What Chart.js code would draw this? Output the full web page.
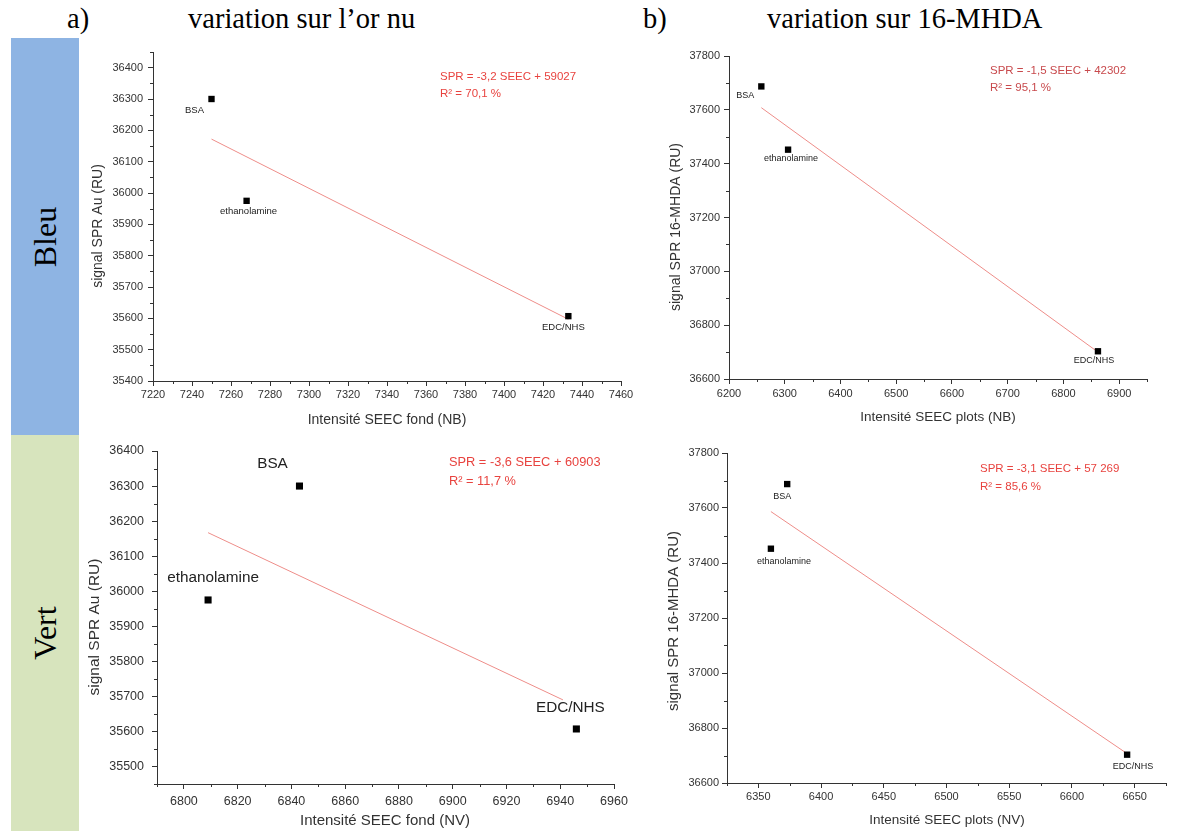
<!DOCTYPE html>
<html lang="fr">
<head>
<meta charset="utf-8">
<title>SPR / SEEC</title>
<script src="https://cdn.jsdelivr.net/npm/chart.js@4.4.1/dist/chart.umd.min.js"></script>
<style>
  body { margin: 0; background: #fff; width: 1190px; height: 831px; position: relative; overflow: hidden;
         font-family: 'Liberation Serif', 'Times New Roman', serif; }
  .head { position: absolute; top: 5px; font-size: 28.5px; line-height: 28.5px; color: #000; white-space: nowrap; }
  .band { position: absolute; left: 11px; width: 68px; }
  .band span { position: absolute; left: 50%; top: 50%; transform: translate(-50%, -50%) rotate(-90deg);
               font-size: 32px; line-height: 32px; white-space: nowrap; color: #000; }
  canvas { position: absolute; }
</style>
</head>
<body>
<div class="head" style="left:67px">a)</div>
<div class="head" style="left:188px">variation sur l’or nu</div>
<div class="head" style="left:643px">b)</div>
<div class="head" style="left:767px">variation sur 16-MHDA</div>
<div class="band" style="top:38px;height:397px;background:#8eb4e3"><span>Bleu</span></div>
<div class="band" style="top:435px;height:396px;background:#d7e4bd"><span>Vert</span></div>

<script>
// the three steps, same order in every array
const steps = ['BSA', 'ethanolamine', 'EDC/NHS'];

// signal SPR (RU)
const sprAu = [36300, 35975, 35607];
const spr16 = [37687, 37452, 36703];

// intensité SEEC
const fondNB = [7250, 7268, 7433];
const plotsNB = [6258, 6306, 6862];
const fondNV = [6843, 6809, 6946];
const plotsNV = [6373, 6360, 6644];

// regression lines (end points)
const fitFondNBx = [7250, 7433], fitFondNBy = [36172, 35597];
const fitPlotsNBx = [6258, 6862], fitPlotsNBy = [37608, 36700];
const fitFondNVx = [6809, 6941], fitFondNVy = [36167, 35690];
const fitPlotsNVx = [6360, 6643], fitPlotsNVy = [37587, 36710];

// equations
const eqFondNB = ['SPR = -3,2 SEEC + 59027', 'R² = 70,1 %'];
const eqPlotsNB = ['SPR = -1,5 SEEC + 42302', 'R² = 95,1 %'];
const eqFondNV = ['SPR = -3,6 SEEC + 60903', 'R² = 11,7 %'];
const eqPlotsNV = ['SPR = -3,1 SEEC + 57 269', 'R² = 85,6 %'];

// tick labels
const xTicksFondNB = [7220, 7240, 7260, 7280, 7300, 7320, 7340, 7360, 7380, 7400, 7420, 7440, 7460];
const xTicksPlotsNB = [6200, 6300, 6400, 6500, 6600, 6700, 6800, 6900];
const xTicksFondNV = [6800, 6820, 6840, 6860, 6880, 6900, 6920, 6940, 6960];
const xTicksPlotsNV = [6350, 6400, 6450, 6500, 6550, 6600, 6650];
const yTicksAuNB = [35400, 35500, 35600, 35700, 35800, 35900, 36000, 36100, 36200, 36300, 36400];
const yTicksAuNV = [35500, 35600, 35700, 35800, 35900, 36000, 36100, 36200, 36300, 36400];
const yTicks16 = [36600, 36800, 37000, 37200, 37400, 37600, 37800];

Chart.defaults.font.family = "'Liberation Sans', Arial, sans-serif";
const PAD = { l: 95, t: 20, r: 30, b: 55 };
const INK = '#333';

// minor ticks, axis titles, equation and point labels
const decor = {
  id: 'decor',
  afterDraw(chart) {
    const o = chart.options.plugins.decor;
    if (!o || !o.ox && o.ox !== 0) return;
    const ctx = chart.ctx;
    const xs = chart.scales.x, ys = chart.scales.y;
    ctx.save();
    ctx.strokeStyle = INK;
    ctx.lineWidth = 1;
    ctx.beginPath();
    for (let v = Math.ceil(xs.min / o.minorX) * o.minorX; v <= xs.max; v += o.minorX) {
      if (o.xTicks.includes(v)) continue;
      const px = Math.round(xs.getPixelForValue(v)) + 0.5;
      ctx.moveTo(px, xs.top);
      ctx.lineTo(px, xs.top + 3);
    }
    for (let v = Math.ceil(ys.min / o.minorY) * o.minorY; v <= ys.max; v += o.minorY) {
      if (o.yTicks.includes(v)) continue;
      const py = Math.round(ys.getPixelForValue(v)) + 0.5;
      ctx.moveTo(ys.right, py);
      ctx.lineTo(ys.right - 3, py);
    }
    ctx.stroke();

    const text = (s, x, y, size, color, align, rot) => {
      ctx.save();
      ctx.translate(x - o.ox, y - o.oy);
      if (rot) ctx.rotate(rot);
      ctx.font = size + "px 'Liberation Sans', Arial, sans-serif";
      ctx.fillStyle = color;
      ctx.textAlign = align;
      ctx.textBaseline = 'middle';
      ctx.fillText(s, 0, 0);
      ctx.restore();
    };

    text(o.xTitle[0], o.xTitle[1], o.xTitle[2], o.xTitle[3], INK, 'center');
    text(o.yTitle[0], o.yTitle[1], o.yTitle[2], o.yTitle[3], INK, 'center', -Math.PI / 2);
    text(o.eq[0], o.eqPos[0], o.eqPos[1], o.eqPos[3], o.eqColor, 'left');
    text(o.eq[1], o.eqPos[0], o.eqPos[2], o.eqPos[3], o.eqColor, 'left');

    const pts = chart.data.datasets[0].data;
    pts.forEach((p, i) => {
      const px = xs.getPixelForValue(p.x) + o.ox + o.lab.dx[i];
      const py = ys.getPixelForValue(p.y) + o.oy + o.lab.dy[i];
      text(steps[i], px, py, o.lab.size, '#222', 'center');
    });
    ctx.restore();
  }
};
Chart.register(decor);

function axis(min, max, ticks, size, pad, fit) {
  return {
    type: 'linear',
    min: min,
    max: max,
    afterBuildTicks: s => { s.ticks = ticks.map(v => ({ value: v })); },
    afterFit: fit,
    grid: { drawOnChartArea: false, drawTicks: true, tickLength: 5, color: INK },
    border: { display: true, color: INK, width: 1 },
    ticks: { callback: v => String(v), font: { size: size }, color: INK, padding: pad,
             autoSkip: false, maxRotation: 0 }
  };
}

function plot(c) {
  const [l, t, r, b] = c.area;
  const w = r - l + PAD.l + PAD.r;
  const h = b - t + PAD.t + PAD.b;
  const ox = l - PAD.l, oy = t - PAD.t;
  const cv = document.createElement('canvas');
  cv.width = w;
  cv.height = h;
  Object.assign(cv.style, { left: ox + 'px', top: oy + 'px', width: w + 'px', height: h + 'px' });
  document.body.appendChild(cv);

  new Chart(cv, {
    type: 'scatter',
    data: {
      datasets: [
        {
          data: c.xs.map((x, i) => ({ x: x, y: c.ys[i] })),
          pointStyle: 'rect',
          pointRadius: c.pt,
          pointHoverRadius: c.pt,
          backgroundColor: '#000',
          borderWidth: 0
        },
        {
          data: c.fitX.map((x, i) => ({ x: x, y: c.fitY[i] })),
          showLine: true,
          borderColor: '#ee8d89',
          borderWidth: 1,
          pointRadius: 0
        }
      ]
    },
    options: {
      responsive: false,
      animation: false,
      layout: { padding: { left: 0, top: PAD.t, right: PAD.r, bottom: 0 } },
      plugins: {
        legend: { display: false },
        tooltip: { enabled: false },
        decor: {
          ox: ox, oy: oy,
          minorX: c.minor[0], minorY: c.minor[1],
          xTicks: c.xTicks, yTicks: c.yTicks,
          xTitle: c.xTitle, yTitle: c.yTitle,
          eq: c.eq, eqPos: c.eqPos, eqColor: c.eqColor,
          lab: c.lab
        }
      },
      scales: {
        x: axis(c.xr[0], c.xr[1], c.xTicks, c.tick, c.pad[0], s => { s.height = PAD.b; }),
        y: axis(c.yr[0], c.yr[1], c.yTicks, c.tick, c.pad[1], s => { s.width = PAD.l; })
      }
    }
  });
}

// a) Bleu
plot({
  area: [153, 52, 621, 381],
  xs: fondNB, ys: sprAu, fitX: fitFondNBx, fitY: fitFondNBy,
  xr: [7220, 7460], yr: [35400, 36450], xTicks: xTicksFondNB, yTicks: yTicksAuNB, minor: [10, 50],
  tick: 11, pad: [2, 5], pt: 4.5,
  xTitle: ['Intensité SEEC fond (NB)', 387, 420, 14],
  yTitle: ['signal SPR Au (RU)', 98, 226, 14],
  eq: eqFondNB, eqPos: [440, 77, 94, 11.5], eqColor: '#e8433f',
  lab: { dx: [-17, 2, -5], dy: [11, 11, 11], size: 9.5 }
});

// b) Bleu
plot({
  area: [729, 56, 1147, 379],
  xs: plotsNB, ys: spr16, fitX: fitPlotsNBx, fitY: fitPlotsNBy,
  xr: [6200, 6950], yr: [36600, 37800], xTicks: xTicksPlotsNB, yTicks: yTicks16, minor: [50, 100],
  tick: 11, pad: [3, 4], pt: 4.5,
  xTitle: ['Intensité SEEC plots (NB)', 938, 417, 13.5],
  yTitle: ['signal SPR 16-MHDA (RU)', 676, 227, 14],
  eq: eqPlotsNB, eqPos: [990, 71, 88, 11.5], eqColor: '#c8494c',
  lab: { dx: [-16, 3, -4], dy: [9, 9, 9], size: 9 }
});

// a) Vert
plot({
  area: [157, 451, 614, 784],
  xs: fondNV, ys: sprAu, fitX: fitFondNVx, fitY: fitFondNVy,
  xr: [6790, 6960], yr: [35450, 36400], xTicks: xTicksFondNV, yTicks: yTicksAuNV, minor: [10, 50],
  tick: 12.5, pad: [5, 8], pt: 5,
  xTitle: ['Intensité SEEC fond (NV)', 385, 821, 15],
  yTitle: ['signal SPR Au (RU)', 95, 627, 15.5],
  eq: eqFondNV, eqPos: [449, 462, 481, 12.8], eqColor: '#e8433f',
  lab: { dx: [-27, 5, -6], dy: [-22, -22, -21], size: 15.3 }
});

// b) Vert
plot({
  area: [727, 453, 1166, 783],
  xs: plotsNV, ys: spr16, fitX: fitPlotsNVx, fitY: fitPlotsNVy,
  xr: [6325, 6675], yr: [36600, 37800], xTicks: xTicksPlotsNV, yTicks: yTicks16, minor: [25, 100],
  tick: 11, pad: [2, 3], pt: 4.5,
  xTitle: ['Intensité SEEC plots (NV)', 947, 820, 13.5],
  yTitle: ['signal SPR 16-MHDA (RU)', 674, 621, 15],
  eq: eqPlotsNV, eqPos: [980, 469, 487, 11.5], eqColor: '#e8433f',
  lab: { dx: [-5, 13, 6], dy: [12, 13, 12], size: 9 }
});
</script>
</body>
</html>
